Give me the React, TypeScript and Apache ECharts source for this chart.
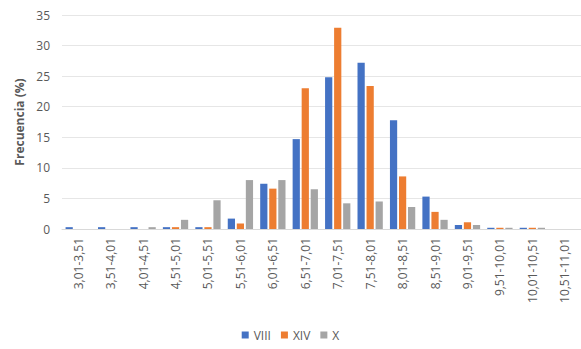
import React, { useEffect, useRef } from "react";
import * as echarts from "echarts";

const categories = [
  "3,01-3,51", "3,51-4,01", "4,01-4,51", "4,51-5,01", "5,01-5,51", "5,51-6,01",
  "6,01-6,51", "6,51-7,01", "7,01-7,51", "7,51-8,01", "8,01-8,51", "8,51-9,01",
  "9,01-9,51", "9,51-10,01", "10,01-10,51", "10,51-11,01",
];
const viii = [0.3, 0.3, 0.3, 0.3, 0.3, 1.7, 7.4, 14.7, 24.8, 27.2, 17.8, 5.3, 0.65, 0.2, 0.2, 0];
const xiv = [0, 0, 0, 0.3, 0.3, 0.9, 6.6, 23.0, 32.9, 23.4, 8.6, 2.8, 1.1, 0.2, 0.2, 0];
const x = [0, 0, 0.3, 1.5, 4.7, 8.0, 8.0, 6.5, 4.2, 4.5, 3.6, 1.5, 0.65, 0.2, 0.2, 0];

const FONT = "'Open Sans', 'Noto Sans', sans-serif";
const TEXT = "#595959";

export default function App() {
  const ref = useRef<HTMLDivElement>(null);
  useEffect(() => {
    if (!ref.current) return;
    const chart = echarts.init(ref.current, undefined, { renderer: "svg" });
    const mk = (name: string, data: number[], color: string) => ({
      name,
      type: "bar",
      data,
      itemStyle: { color },
      barGap: "25%",
      barCategoryGap: "22%",
    });
    chart.setOption({
      animation: false,
      textStyle: { fontFamily: FONT },
      grid: { left: 62, right: -2, top: 15, bottom: 120, containLabel: false },
      legend: {
        bottom: 3,
        left: "center",
        itemWidth: 7,
        itemHeight: 7,
        itemGap: 10,
        icon: "rect",
        textStyle: { color: TEXT, fontSize: 12, fontFamily: FONT },
        data: ["VIII", "XIV", "X"],
      },
      xAxis: {
        type: "category",
        data: categories,
        axisLine: { lineStyle: { color: "#d9d9d9" } },
        axisTick: { show: false },
        axisLabel: { rotate: 90, color: TEXT, fontSize: 12, margin: 9, interval: 0, fontFamily: FONT },
      },
      yAxis: {
        type: "value",
        min: 0,
        max: 35,
        interval: 5,
        name: "Frecuencia (%)",
        nameLocation: "middle",
        nameGap: 34,
        nameRotate: 90,
        nameTextStyle: { color: TEXT, fontSize: 12, fontWeight: "bold", fontFamily: FONT },
        axisLine: { show: false },
        axisTick: { show: false },
        axisLabel: { color: TEXT, fontSize: 12, margin: 12, fontFamily: FONT },
        splitLine: { lineStyle: { color: "#e6e6e6" } },
      },
      series: [
        mk("VIII", viii, "#4472C4"),
        mk("XIV", xiv, "#ED7D31"),
        mk("X", x, "#A5A5A5"),
      ],
    });
    return () => chart.dispose();
  }, []);
  return (
    <div
      ref={ref}
      style={{ position: "absolute", left: 0, top: 0, width: 581, height: 349, background: "#fff" }}
    />
  );
}
